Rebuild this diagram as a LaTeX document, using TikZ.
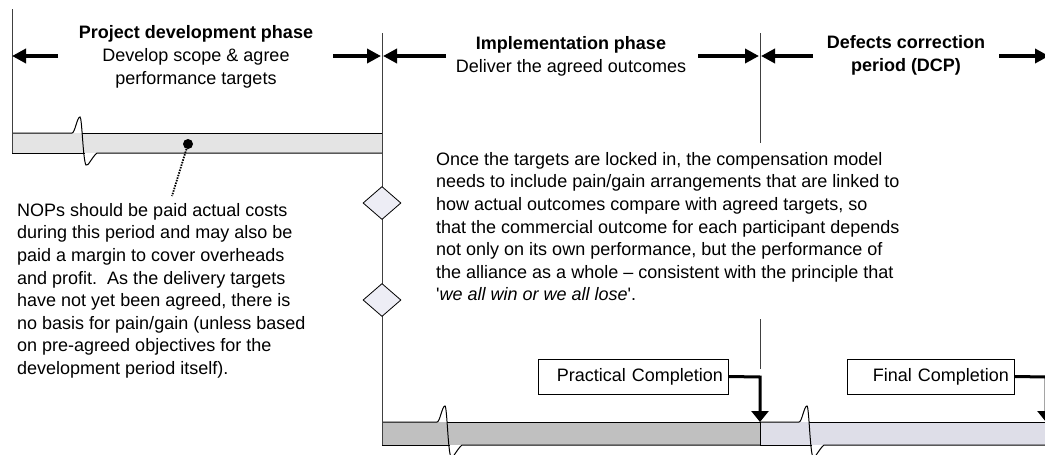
\documentclass[tikz,border=0pt]{standalone}
\usepackage{fontspec}
\setmainfont{Liberation Sans}
\usetikzlibrary{arrows.meta,shapes.geometric}

\definecolor{guide}{HTML}{404040}
\definecolor{devbar}{HTML}{E4E4E4}
\definecolor{implbar}{HTML}{C0C0C0}
\definecolor{dcpbar}{HTML}{DEDEE8}
\definecolor{gatefill}{HTML}{EDEDF5}

% A timeline bar with a "break" squiggle:
% #1 left x, #2 right x, #3 top y, #4 bottom y, #5 break x, #6 fill colour
\newcommand{\brokenbar}[6]{%
  \fill[#6] (#1,#3) rectangle (#2,#4);
  \draw[barline] (#1,#3) -- ({#5-8},#3)
    .. controls ({#5-5},#3) and ({#5-3},{#3-16}) .. (#5,{#3-16})
    .. controls ({#5+2},{#3-16}) and ({#5+3},{#4+8}) .. ({#5+6},{#4+12})
    .. controls ({#5+8},{#4+14}) and ({#5+12},{#4+4}) .. ({#5+17},#4) -- (#2,#4);
  \draw[barline] ({#5+2.2},#3) -- (#2,#3);
  \draw[barline] (#1,#4) -- ({#5+5},#4);
}

\tikzset{
  barline/.style={line width=1pt, black},
  guideline/.style={line width=0.9pt, guide},
  span/.style={line width=3.6pt, -{Triangle[length=14pt,width=14pt]}},
  milestone/.style={line width=3pt, -{Triangle[length=11pt,width=17pt]}},
  phase/.style={align=center, anchor=north, inner sep=0pt,
    font=\fontsize{18}{23}\selectfont},
  note/.style={align=left, anchor=north west, inner sep=0pt,
    font=\fontsize{18}{22.6}\selectfont},
  markbox/.style={draw, line width=0.8pt, inner xsep=5pt, inner ysep=0pt,
    minimum height=35pt, align=right, font=\fontsize{18}{22}\selectfont},
  gate/.style={diamond, draw, line width=0.8pt, fill=gatefill, inner sep=0pt,
    minimum width=38pt, minimum height=33pt},
}

\begin{document}
\begin{tikzpicture}[x=1pt,y=-1pt]
\useasboundingbox (0,0) rectangle (1045,455);

% phase boundaries
\coordinate (devtop) at (12,9);
\coordinate (devbot) at (12,153);
\coordinate (impltop) at (382,33);
\coordinate (implbot) at (382,445);
\coordinate (dcptop) at (760,33);
\coordinate (dcpmid) at (760,143);
\coordinate (dcplow) at (760,319);
\coordinate (dcplowend) at (760,369);

% bars
\brokenbar{12}{382}{133}{153}{80}{devbar}
\brokenbar{382}{760}{422}{445}{445}{implbar}
\brokenbar{760}{1060}{422}{445}{807}{dcpbar}
\draw[barline] (760,422) -- (760,445);

\draw[guideline] (devtop) -- (devbot);
\draw[guideline] (impltop) -- (implbot);
\draw[guideline] (dcptop) -- (dcpmid);
\draw[guideline] (dcplow) -- (dcplowend);

% gates on the implementation boundary
\node[gate] (gateA) at (382,203) {};
\node[gate] (gateB) at (382,300) {};

% phase headings
\node[phase] (devhead) at (196,25)
  {\textbf{Project development phase}\\Develop scope \& agree\\performance targets};
\node[phase] (implhead) at (571,36)
  {\textbf{Implementation phase}\\Deliver the agreed outcomes};
\node[phase] (dcphead) at (906,35)
  {\textbf{Defects correction}\\\textbf{period (DCP)}};

% span arrows
\coordinate (devL0) at (58,56);   \coordinate (devL1) at (12,56);
\coordinate (devR0) at (333,56);  \coordinate (devR1) at (381,56);
\coordinate (impL0) at (446,56);  \coordinate (impL1) at (383,56);
\coordinate (impR0) at (698,56);  \coordinate (impR1) at (759,56);
\coordinate (dcpL0) at (813,56);  \coordinate (dcpL1) at (761,56);
\coordinate (dcpR0) at (999,56);  \coordinate (dcpR1) at (1049,56);
\draw[span] (devL0) -- (devL1);
\draw[span] (devR0) -- (devR1);
\draw[span] (impL0) -- (impL1);
\draw[span] (impR0) -- (impR1);
\draw[span] (dcpL0) -- (dcpL1);
\draw[span] (dcpR0) -- (dcpR1);

% annotation for the development phase
\node[circle, fill=black, inner sep=0pt, minimum size=10pt] (devdot) at (188,144) {};
\coordinate (devlead) at (172,196);
\draw[line width=1.8pt, dash pattern=on 1.5pt off 1.2pt] (devdot) -- (devlead);

\node[note] (devnote) at (17,203)
  {NOPs should be paid actual costs\\
   during this period and may also be\\
   paid a margin to cover overheads\\
   and profit.\ \ As the delivery targets\\
   have not yet been agreed, there is\\
   no basis for pain/gain (unless based\\
   on pre-agreed objectives for the\\
   development period itself).};

\node[note] (implnote) at (436,152)
  {Once the targets are locked in, the compensation model\\
   needs to include pain/gain arrangements that are linked to\\
   how actual outcomes compare with agreed targets, so\\
   that the commercial outcome for each participant depends\\
   not only on its own performance, but the performance of\\
   the alliance as a whole -- consistent with the principle that\\
   \textquotesingle\textit{we all win or we all lose}\textquotesingle.};

% milestones
\node[markbox, text width=180pt] (pc) at (633,376.5) {Practical Completion};
\node[markbox, text width=157pt] (fc) at (930.5,376.5) {Final Completion};
\coordinate (pcbend) at (760,377);
\coordinate (pcend) at (760,422);
\coordinate (fcbend) at (1046,377);
\coordinate (fcend) at (1046,422);
\draw[milestone] (pc.east) -- (pcbend) -- (pcend);
\draw[milestone] (fc.east) -- (fcbend) -- (fcend);
\end{tikzpicture}
\end{document}
